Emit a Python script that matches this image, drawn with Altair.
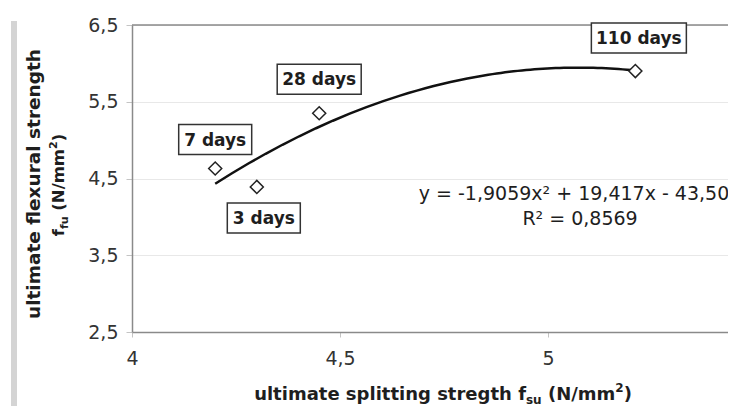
import altair as alt
import pandas as pd

# ---------------- data ----------------
labels = ["3 days", "7 days", "28 days", "110 days"]
splitting = [4.30, 4.20, 4.45, 5.21]      # f_su (N/mm2)
flexural = [4.39, 4.63, 5.35, 5.90]       # f_fu (N/mm2)
x_ticks = [4, 4.5, 5]
y_ticks = [2.5, 3.5, 4.5, 5.5, 6.5]
eq_lines = ["y = -1,9059x² + 19,417x - 43,504", "R² = 0,8569"]
# (text, kind, space before)
x_title_parts = [("ultimate splitting stregth f", "main", False),
                 ("su", "sub", False), ("(N/mm", "main", True),
                 ("2", "sup", False), (")", "main", False)]
y_title_line1 = "ultimate flexural strength"
y_title_parts = [("f", "main", False), ("fu", "sub", False),
                 ("(N/mm", "main", True), ("2", "sup", False),
                 (")", "main", False)]

df = pd.DataFrame({"x": splitting, "y": flexural, "label": labels})
one = pd.DataFrame({"a": [0]})

# ---------------- layout / style ----------------
FONT = "DejaVu Sans"
W, H = 596, 307
PX_PER_UNIT = 416
X_DOMAIN = [4, 4 + W / PX_PER_UNIT]
Y_DOMAIN = [2.5, 6.5]
INK = "#1e1e1e"
FRAME = "#8a8a8a"

# label box offsets from their point (px): dx, dy, box width
box_style = {
    "7 days": (0, -29, 73),
    "3 days": (7, 31, 73),
    "28 days": (0, -34, 84),
    "110 days": (3.5, -33, 95),
}
BOX_H = 30

EQ_X = 5.077
EQ_Y = [4.22, 3.89]

xs = alt.Scale(domain=X_DOMAIN, nice=False, zero=False)
ys = alt.Scale(domain=Y_DOMAIN, nice=False, zero=False)
label_expr = "replace(toString(datum.value), '.', ',')"

X = alt.X("x:Q", scale=xs, axis=alt.Axis(
    values=x_ticks, labelExpr=label_expr, title=None, grid=False,
    labelFlush=False, tickSize=5, labelPadding=12, labelFontSize=19,
    labelFont=FONT, labelColor="#333", domainColor=FRAME, domainWidth=1.5,
    tickColor="#c4c4c4"))
Y = alt.Y("y:Q", scale=ys, axis=alt.Axis(
    values=y_ticks, labelExpr=label_expr, title=None, grid=True,
    gridColor="#e8e8e8", tickSize=6, labelPadding=8, labelFontSize=19,
    labelFont=FONT, labelColor="#333", domainColor=FRAME, domainWidth=1.5,
    tickColor="#c4c4c4"))

layers = []

# top frame line at 6,5
layers.append(alt.Chart(pd.DataFrame({"y": [Y_DOMAIN[1]]})).mark_rule(
    color=FRAME, strokeWidth=1.5).encode(y=alt.Y("y:Q", scale=ys)))

# 2nd order polynomial trend line fitted by Vega
layers.append(alt.Chart(df).transform_regression(
    "x", "y", method="poly", order=2, extent=[min(splitting), max(splitting)]
).mark_line(color="#111", strokeWidth=2.5).encode(x=X, y=Y))

# diamonds
layers.append(alt.Chart(df).mark_point(
    shape="diamond", size=170, filled=True, fill="white", stroke="#222",
    strokeWidth=1.5, opacity=1).encode(x=X, y=Y))

# label boxes and texts
for lab, (dx, dy, bw) in box_style.items():
    sub = alt.Chart(df).transform_filter(alt.datum.label == lab)
    layers.append(sub.mark_rect(
        fill="white", stroke="#333", strokeWidth=1.5,
        xOffset=dx - bw / 2, x2Offset=dx + bw / 2,
        yOffset=dy - BOX_H / 2, y2Offset=dy + BOX_H / 2).encode(
        x=alt.X("x:Q", scale=xs), x2="x", y=alt.Y("y:Q", scale=ys), y2="y"))
    layers.append(sub.mark_text(
        font=FONT, fontWeight="bold", fontSize=17, color=INK,
        align="center", baseline="middle", dx=dx, dy=dy + 1).encode(
        x=alt.X("x:Q", scale=xs), y=alt.Y("y:Q", scale=ys), text="label:N"))

# equation
eq_df = pd.DataFrame({"x": [EQ_X, EQ_X], "y": EQ_Y, "t": eq_lines})
layers.append(alt.Chart(eq_df).mark_text(
    font=FONT, fontSize=19, color=INK, align="center",
    baseline="alphabetic").encode(
    x=alt.X("x:Q", scale=xs), y=alt.Y("y:Q", scale=ys), text="t:N"))

# ---- axis titles built from pieces (sub/superscripts) ----
WID = {' ': .348, '(': .457, ')': .457, '/': .365, 'N': .837,
       'a': .675, 'd': .716, 'e': .678, 'f': .435, 'g': .716, 'h': .712,
       'i': .343, 'l': .343, 'm': 1.042, 'n': .712, 'p': .716, 'r': .493,
       's': .595, 't': .478, 'u': .712, 'x': .663, 'y': .652}


def tw(s, size):
    return sum(WID.get(c, .696) for c in s) * size


def run_width(parts, main, small):
    total = 0
    for s, k, gap in parts:
        size = main if k == "main" else small
        total += tw(s, size) + (WID[' '] * main if gap else 0)
    return total


# x title: centre at plot x 311, baseline plot y 375
XM, XS = 18, 12
XT_SHIFT = {"main": 0, "sub": 4, "sup": -8}
pos = 311 - run_width(x_title_parts, XM, XS) / 2
for s, k, gap in x_title_parts:
    size = XM if k == "main" else XS
    if gap:
        pos += WID[' '] * XM
    layers.append(alt.Chart(one).mark_text(
        text=s, font=FONT, fontWeight="bold", fontSize=size, color=INK,
        align="left", baseline="alphabetic").encode(
        x=alt.value(pos), y=alt.value(375 + XT_SHIFT[k])))
    pos += tw(s, size)

# y title line 1
layers.append(alt.Chart(one).mark_text(
    text=y_title_line1, font=FONT, fontWeight="bold", fontSize=18.5,
    color=INK, align="center", baseline="alphabetic", angle=270).encode(
    x=alt.value(-92), y=alt.value(159)))

# y title line 2 (reads upward)
YM, YS = 16.5, 11
YT_SHIFT = {"main": 0, "sub": 4, "sup": -7}
pos = 160 + run_width(y_title_parts, YM, YS) / 2
for s, k, gap in y_title_parts:
    size = YM if k == "main" else YS
    if gap:
        pos -= WID[' '] * YM
    layers.append(alt.Chart(one).mark_text(
        text=s, font=FONT, fontWeight="bold", fontSize=size, color=INK,
        align="left", baseline="alphabetic", angle=270).encode(
        x=alt.value(-68 + YT_SHIFT[k]), y=alt.value(pos)))
    pos -= tw(s, size)

# grey scan strip at the far left
layers.append(alt.Chart(one).mark_rect(color="#d4d4d4").encode(
    x=alt.value(-121), x2=alt.value(-115), y=alt.value(-4), y2=alt.value(387)))

chart = alt.layer(*layers).properties(
    width=W, height=H,
    autosize=alt.AutoSizeParams(type="none"),
    padding={"left": 124, "top": 17, "right": 0, "bottom": 74},
    background="white",
).configure_view(stroke="transparent")

chart.save("out.html", embed_options={"renderer": "svg", "actions": False})
